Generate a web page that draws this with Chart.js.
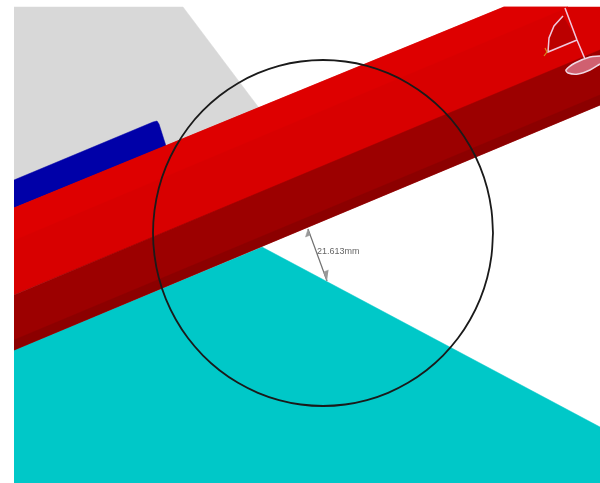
<!DOCTYPE html>
<html>
<head>
<meta charset="utf-8">
<title>Clearance check</title>
<script src="https://cdn.jsdelivr.net/npm/chart.js@4/dist/chart.umd.min.js"></script>
<style>
    html, body { margin: 0; padding: 0; background: #fff; }
    canvas { display: block; }
</style>
</head>
<body>
<canvas id="view" width="600" height="483"></canvas>
<script>
// Outlines, as [x, y] in scale units
const grayPlane = [[14, 7], [183, 7], [262, 112], [14, 230]];
const bluePlate = [[14, 180], [153, 122], [157, 121], [159, 124], [166, 146], [14, 208]];
const beamLit = [[14, 208], [504, 7], [600, 7], [600, 52], [14, 295]];
const beamBright = [[14, 208], [504, 7], [568, 7], [14, 240]];
const beamShade = [[14, 295], [600, 50], [600, 105], [14, 350]];
const beamEdge = [[14, 340], [600, 95], [600, 105], [14, 350]];
const cyanPlane = [[14, 350], [262, 247], [600, 427], [600, 483], [14, 483]];
const circle = [
    [493, 233], [491.5, 210.4], [487.2, 188.2], [480.1, 166.8], [470.2, 146.5], [457.9, 127.7], [443.2, 110.7],
    [426.5, 95.8], [408, 83.2], [388.1, 73.2], [367, 65.9], [345.2, 61.5], [323, 60],
    [300.8, 61.5], [279, 65.9], [257.9, 73.2], [238, 83.2], [219.5, 95.8], [202.8, 110.7],
    [188.1, 127.7], [175.8, 146.5], [165.9, 166.8], [158.8, 188.2], [154.5, 210.4], [153, 233],
    [154.5, 255.6], [158.8, 277.8], [165.9, 299.2], [175.8, 319.5], [188.1, 338.3], [202.8, 355.3],
    [219.5, 370.2], [238, 382.8], [257.9, 392.8], [279, 400.1], [300.8, 404.5], [323, 406],
    [345.2, 404.5], [367, 400.1], [388.1, 392.8], [408, 382.8], [426.5, 370.2], [443.2, 355.3],
    [457.9, 338.3], [470.2, 319.5], [480.1, 299.2], [487.2, 277.8], [491.5, 255.6], [493, 233],
];
const dimLine = [[308, 229], [327, 281]];
const dimArrowTop = [[308, 229], [305.5, 237], [310.5, 235]];
const dimArrowBottom = [[327, 281], [323.5, 272], [328.5, 270]];
const dimLabel = "21.613mm";
const dimLabelAt = [317, 251.5];
const glyphMast = [[565, 8], [577, 40], [585, 59]];
const glyphSector = [[563, 16], [554, 26], [549, 38], [548, 52], [577, 40]];
const glyphDisc = [[600, 56], [590, 57], [575, 63], [566, 70], [568, 73], [578, 74], [590, 70], [600, 64]];
const glyphTick = [[545, 48], [547, 52], [544, 56]];

function toPoints(outline) {
    return outline.map(p => ({ x: p[0], y: p[1] }));
}

// Filled outline
function area(outline, color) {
    return {
        data: toPoints(outline),
        showLine: true,
        fill: "shape",
        backgroundColor: color,
        borderColor: color,
        borderWidth: 0.5,
        pointRadius: 0,
        tension: 0,
    };
}

// Plain stroke
function stroke(outline, color, width, tension) {
    return {
        data: toPoints(outline),
        showLine: true,
        fill: false,
        borderColor: color,
        borderWidth: width,
        pointRadius: 0,
        tension: tension || 0,
    };
}

// Painted from the back to the front, Chart.js draws the first dataset last
const layers = [
    area(grayPlane, "#d8d8d8"),
    area(bluePlate, "#0000a8"),
    area(cyanPlane, "#00c8c8"),
    area(beamLit, "#d80000"),
    area(beamBright, "#de0000"),
    area(beamShade, "#9c0000"),
    area(beamEdge, "#8c0000"),
    stroke(dimLine, "#707070", 1.2),
    area(dimArrowTop, "#999999"),
    area(dimArrowBottom, "#999999"),
    area(glyphSector, "#bb0000"),
    area(glyphDisc, "#d06070"),
    stroke(glyphMast, "#f0c8dc", 1.5),
    stroke(glyphSector, "#f0c8dc", 1.5),
    stroke(glyphDisc, "#f0d8e4", 1.5, 0.3),
    stroke(glyphTick, "#d09020", 1.2),
    stroke(circle, "#1a1a1a", 1.8, 0.4),
].reverse();

// Writes the dimension value next to its arrow
const dimText = {
    id: "dimText",
    afterDatasetsDraw(chart) {
        const ctx = chart.ctx;
        ctx.save();
        ctx.font = "9px 'Liberation Sans'";
        ctx.fillStyle = "#666666";
        ctx.textBaseline = "middle";
        ctx.fillText(dimLabel, chart.scales.x.getPixelForValue(dimLabelAt[0]), chart.scales.y.getPixelForValue(dimLabelAt[1]));
        ctx.restore();
    },
};

new Chart(document.getElementById("view"), {
    type: "scatter",
    data: { datasets: layers },
    options: {
        responsive: false,
        animation: false,
        layout: { padding: 0 },
        plugins: { legend: { display: false }, title: { display: false }, tooltip: { enabled: false } },
        scales: {
            x: { display: false, min: 0, max: 600 },
            y: { display: false, min: 0, max: 483, reverse: true },
        },
    },
    plugins: [dimText],
});
</script>
</body>
</html>
